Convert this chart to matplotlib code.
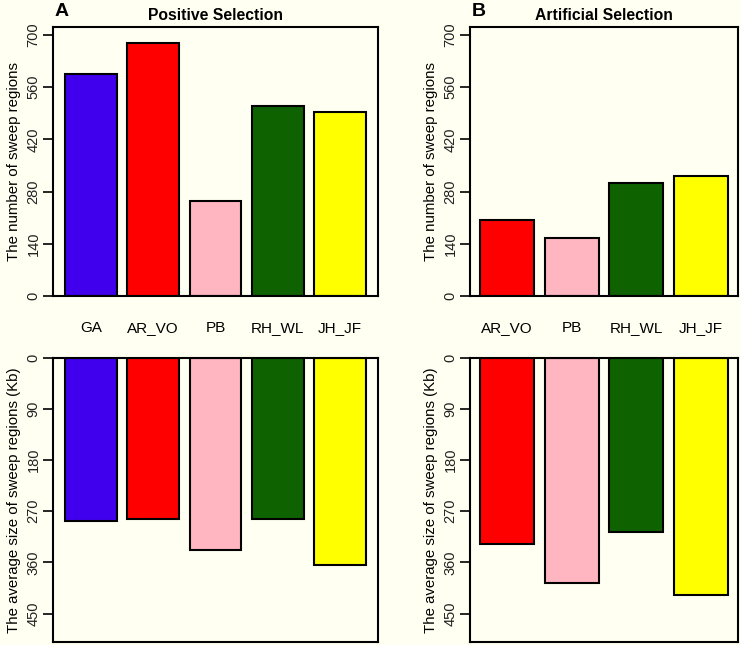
import matplotlib.pyplot as plt

plt.rcParams['font.family'] = ['Liberation Sans', 'DejaVu Sans']

# Panel A: positive selection
pos_groups = ['GA', 'AR_VO', 'PB', 'RH_WL', 'JH_JF']
pos_counts = [594, 677, 254, 510, 492]
pos_sizes = [287, 284, 338, 283, 365]

# Panel B: artificial selection
art_groups = ['AR_VO', 'PB', 'RH_WL', 'JH_JF']
art_counts = [204, 155, 304, 323]
art_sizes = [328, 396, 306, 418]

group_colors = {'GA': '#4000EE', 'AR_VO': '#FF0000', 'PB': '#FFB6C1',
                'RH_WL': '#0E6300', 'JH_JF': '#FFFF00'}

bg = '#FFFFF2'
W, H = 740, 645
fig = plt.figure(figsize=(W / 100, H / 100), dpi=100, facecolor=bg)


def box(x0, x1, ytop, ybot):
    return [x0 / W, 1 - ybot / H, (x1 - x0) / W, (ybot - ytop) / H]


def draw_panel(groups, counts, sizes, x0, x1, letter, title):
    n = len(groups)
    lefts = [0.2 + 1.2 * i for i in range(n)]
    centers = [l + 0.5 for l in lefts]
    span = lefts[-1] + 1 - lefts[0]
    xlim = (lefts[0] - 0.04 * span, lefts[-1] + 1 + 0.04 * span)
    cols = [group_colors[g] for g in groups]

    # top: number of regions
    ax = fig.add_axes(box(x0, x1, 26.7, 296))
    ax.set_facecolor(bg)
    ax.bar(centers, counts, width=1, color=cols, edgecolor='black', linewidth=1.5)
    ax.set_xlim(*xlim)
    ax.set_ylim(0, 722)
    ax.set_yticks(range(0, 701, 140))
    ax.set_xticks([])
    ax.tick_params(axis='y', labelrotation=90, labelsize=10.5, length=7,
                   width=1.2, pad=2, labelcolor='#222222')
    for lab in ax.get_yticklabels():
        lab.set_va('center')
    for s in ax.spines.values():
        s.set_linewidth(1.5)
    ax.set_ylabel('The number of sweep regions', fontsize=10.8, labelpad=4)
    ax.text(x0 / W + 0.002, 1 - 12 / H, letter, transform=fig.transFigure,
            fontsize=14, fontweight='bold', va='center', ha='left')
    ax.set_title(title, fontsize=11.3, fontweight='bold', pad=5)

    # bottom: average size
    ax2 = fig.add_axes(box(x0, x1, 357.5, 642))
    ax2.set_facecolor(bg)
    ax2.bar(centers, sizes, width=1, color=cols, edgecolor='black', linewidth=1.5)
    ax2.set_xlim(*xlim)
    ax2.set_ylim(500, 0)
    ax2.set_yticks(range(0, 451, 90))
    ax2.xaxis.tick_top()
    ax2.set_xticks(centers)
    ax2.set_xticklabels(groups)
    ax2.tick_params(axis='x', length=0, labelsize=11, pad=16)
    ax2.tick_params(axis='y', labelrotation=90, labelsize=10.5, length=7,
                    width=1.2, pad=2, labelcolor='#222222')
    for lab in ax2.get_yticklabels():
        lab.set_va('center')
    for s in ax2.spines.values():
        s.set_linewidth(1.5)
    ax2.set_ylabel('The average size of sweep regions (Kb)', fontsize=10.8,
                   labelpad=4)


draw_panel(pos_groups, pos_counts, pos_sizes, 53, 378, 'A', 'Positive Selection')
draw_panel(art_groups, art_counts, art_sizes, 470, 738, 'B', 'Artificial Selection')

fig.savefig('out.png', dpi=100, facecolor=bg)
